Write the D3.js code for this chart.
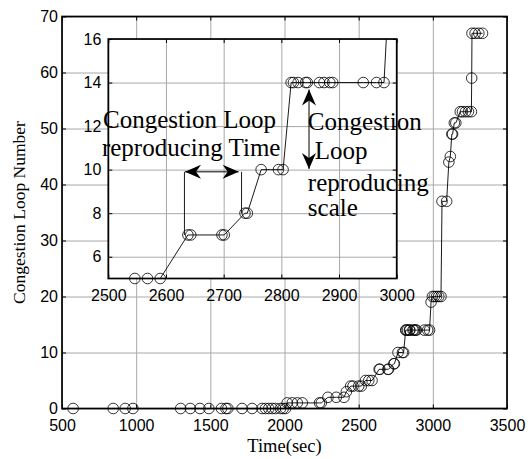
<!DOCTYPE html>
<html>
<head>
<meta charset="utf-8">
<script src="https://cdn.jsdelivr.net/npm/d3@7"></script>
<style>
  body { margin: 0; background: #fff; }
</style>
</head>
<body>
<div id="grafico"></div>
<script>
// tempo (s) de cada laço de congestionamento e número acumulado
const tempos = [575, 845, 926, 978, 1300, 1365, 1430, 1490, 1575, 1605, 1618, 1714, 1782, 1849,
  1872, 1894, 1917, 1939, 1973, 1991, 2007,
  2018, 2052, 2086, 2120, 2236, 2248,
  2293, 2349, 2401, 2417,
  2446, 2462, 2500, 2518,
  2546, 2568, 2590,
  2638, 2643, 2697, 2701,
  2737, 2741,
  2765, 2795, 2803,
  2817, 2821, 2829, 2842, 2845, 2866, 2874, 2884, 2889, 2942, 2965, 2978,
  2988,
  2997, 3010, 3025, 3040, 3055,
  3062, 3093,
  3108, 3118, 3128, 3133, 3145, 3155,
  3185, 3200, 3220, 3240, 3260,
  3262,
  3264, 3285, 3310, 3335];
const lacos = [0, 0, 0, 0, 0, 0, 0, 0, 0, 0, 0, 0, 0, 0,
  0, 0, 0, 0, 0, 0, 0,
  1, 1, 1, 1, 1, 1,
  2, 2, 2, 3,
  4, 4, 4, 4,
  5, 5, 5,
  7, 7, 7, 7,
  8, 8,
  10, 10, 10,
  14, 14, 14, 14, 14, 14, 14, 14, 14, 14, 14, 14,
  19,
  20, 20, 20, 20, 20,
  37, 37,
  44, 45, 49, 49, 51, 51,
  53, 53, 53, 53, 53,
  59,
  67, 67, 67, 67];

const ticksX = [500, 1000, 1500, 2000, 2500, 3000, 3500];
const ticksY = [0, 10, 20, 30, 40, 50, 60, 70];
const ticksXInset = [2500, 2600, 2700, 2800, 2900, 3000];
const ticksYInset = [6, 8, 10, 12, 14, 16];

const W = 528, H = 459;
const fonteNum = "'Liberation Sans', Arial, sans-serif";
const fonteTxt = "'Liberation Serif', 'Times New Roman', serif";
const corGrade = "#a9a9a9";
const fmt = d3.format("d");

const pontos = tempos.map((t, i) => ({ t: t, n: lacos[i] }));

const svg = d3.select("#grafico").append("svg")
    .attr("width", W)
    .attr("height", H)
    .style("background", "#fff");

function desenharPainel(x, y, tx, ty, padX, padY, id) {
    const [x0, x1] = x.range();
    const [y0, y1] = y.range();
    const g = svg.append("g");

    g.append("rect")
        .attr("x", x0).attr("y", y1)
        .attr("width", x1 - x0).attr("height", y0 - y1)
        .style("fill", "#fff");

    // grade
    g.append("g")
        .attr("transform", `translate(0,${y0})`)
        .call(d3.axisBottom(x).tickValues(tx).tickSize(-(y0 - y1)).tickFormat(""))
        .call(s => s.select(".domain").remove())
        .selectAll("line").style("stroke", corGrade).style("stroke-width", 1);
    g.append("g")
        .attr("transform", `translate(${x0},0)`)
        .call(d3.axisLeft(y).tickValues(ty).tickSize(-(x1 - x0)).tickFormat(""))
        .call(s => s.select(".domain").remove())
        .selectAll("line").style("stroke", corGrade).style("stroke-width", 1);

    svg.append("clipPath").attr("id", id)
        .append("rect")
        .attr("x", x0).attr("y", y1)
        .attr("width", x1 - x0).attr("height", y0 - y1);

    const linha = d3.line().x(d => x(d.t)).y(d => y(d.n));
    g.append("path")
        .datum(pontos)
        .attr("clip-path", `url(#${id})`)
        .attr("d", linha)
        .style("fill", "none")
        .style("stroke", "#000")
        .style("stroke-width", 0.9);

    const [dx0, dx1] = x.domain();
    const [dy0, dy1] = y.domain();
    g.selectAll(".marcador")
        .data(pontos.filter(d => d.t >= dx0 && d.t <= dx1 && d.n >= dy0 && d.n <= dy1))
        .enter().append("circle")
        .attr("class", "marcador")
        .attr("cx", d => x(d.t))
        .attr("cy", d => y(d.n))
        .attr("r", 5.3)
        .style("fill", "none")
        .style("stroke", "#000")
        .style("stroke-width", 0.8);

    // eixos com marcas para dentro
    const eixos = [
        [d3.axisBottom(x).tickValues(tx).tickFormat(fmt), `translate(0,${y0})`],
        [d3.axisTop(x).tickValues(tx).tickFormat(""), `translate(0,${y1})`],
        [d3.axisLeft(y).tickValues(ty).tickFormat(fmt), `translate(${x0},0)`],
        [d3.axisRight(y).tickValues(ty).tickFormat(""), `translate(${x1},0)`]
    ];
    eixos.forEach(([eixo, tr], i) => {
        eixo.tickSizeInner(-4).tickSizeOuter(0).tickPadding(i < 2 ? padX : padY);
        const e = g.append("g").attr("transform", tr).call(eixo);
        e.select(".domain").remove();
        e.selectAll("line").style("stroke", "#000").style("stroke-width", 1);
        e.selectAll("text")
            .style("font-family", fonteNum)
            .style("font-size", "16px")
            .style("fill", "#000");
    });

    g.append("rect")
        .attr("x", x0).attr("y", y1)
        .attr("width", x1 - x0).attr("height", y0 - y1)
        .style("fill", "none")
        .style("stroke", "#000")
        .style("stroke-width", 1.7);
    return g;
}

// painel principal
const x = d3.scaleLinear().domain([500, 3500]).range([62, 507]);
const y = d3.scaleLinear().domain([0, 70]).range([408.5, 16.5]);
desenharPainel(x, y, ticksX, ticksY, 11.5, 4, "clipPrincipal");

svg.append("text")
    .attr("x", (62 + 507) / 2)
    .attr("y", 452)
    .attr("text-anchor", "middle")
    .text("Time(sec)")
    .style("font-family", fonteTxt)
    .style("font-size", "18.5px");

svg.append("text")
    .attr("transform", `translate(25,${(16.5 + 408.5) / 2}) rotate(-90)`)
    .attr("text-anchor", "middle")
    .text("Congestion Loop Number")
    .style("font-family", fonteTxt)
    .style("font-size", "17.5px");

// detalhe (inset)
const xi = d3.scaleLinear().domain([2500, 3000]).range([108.3, 396.7]);
const yi = d3.scaleLinear().domain([5, 16]).range([278.5, 39]);
desenharPainel(xi, yi, ticksXInset, ticksYInset, 11.5, 7, "clipInset");

// anotações
function seta(x1, y1, x2, y2) {
    const comp = 16, larg = 7, recuo = 5;
    const L = Math.hypot(x2 - x1, y2 - y1);
    const ux = (x2 - x1) / L, uy = (y2 - y1) / L;
    const vx = -uy, vy = ux;
    const cabeca = (px, py, sx, sy) => [
        [px, py],
        [px - sx * comp + vx * larg, py - sy * comp + vy * larg],
        [px - sx * (comp - recuo), py - sy * (comp - recuo)],
        [px - sx * comp - vx * larg, py - sy * comp - vy * larg]
    ];
    svg.append("line")
        .attr("x1", x1).attr("y1", y1).attr("x2", x2).attr("y2", y2)
        .style("stroke", "#000").style("stroke-width", 1);
    [cabeca(x2, y2, ux, uy), cabeca(x1, y1, -ux, -uy)].forEach(p => {
        svg.append("path")
            .attr("d", "M" + p.map(q => q.join(",")).join("L") + "Z")
            .style("fill", "#000");
    });
}

// marcas verticais do intervalo de tempo
[[2632, 7], [2731, 8]].forEach(([t, n]) => {
    svg.append("line")
        .attr("x1", xi(t)).attr("x2", xi(t))
        .attr("y1", yi(9.9)).attr("y2", yi(n))
        .style("stroke", "#000").style("stroke-width", 0.9);
});
seta(xi(2633), yi(9.9), xi(2726), yi(9.9));
seta(xi(2848), yi(13.68), xi(2848), yi(10.03));

const textos = [
    { s: "Congestion Loop", t: 2491, n: 11.9 },
    { s: "reproducing Time", t: 2489, n: 10.62 },
    { s: "Congestion", t: 2846, n: 11.8 },
    { s: "Loop", t: 2858, n: 10.48 },
    { s: "reproducing", t: 2846, n: 9.02 },
    { s: "scale", t: 2846, n: 7.88 }
];
svg.selectAll(".anot")
    .data(textos)
    .enter().append("text")
    .attr("class", "anot")
    .attr("x", d => xi(d.t))
    .attr("y", d => yi(d.n))
    .text(d => d.s)
    .style("font-family", fonteTxt)
    .style("font-size", "25px")
    .style("fill", "#000");
</script>
</body>
</html>
